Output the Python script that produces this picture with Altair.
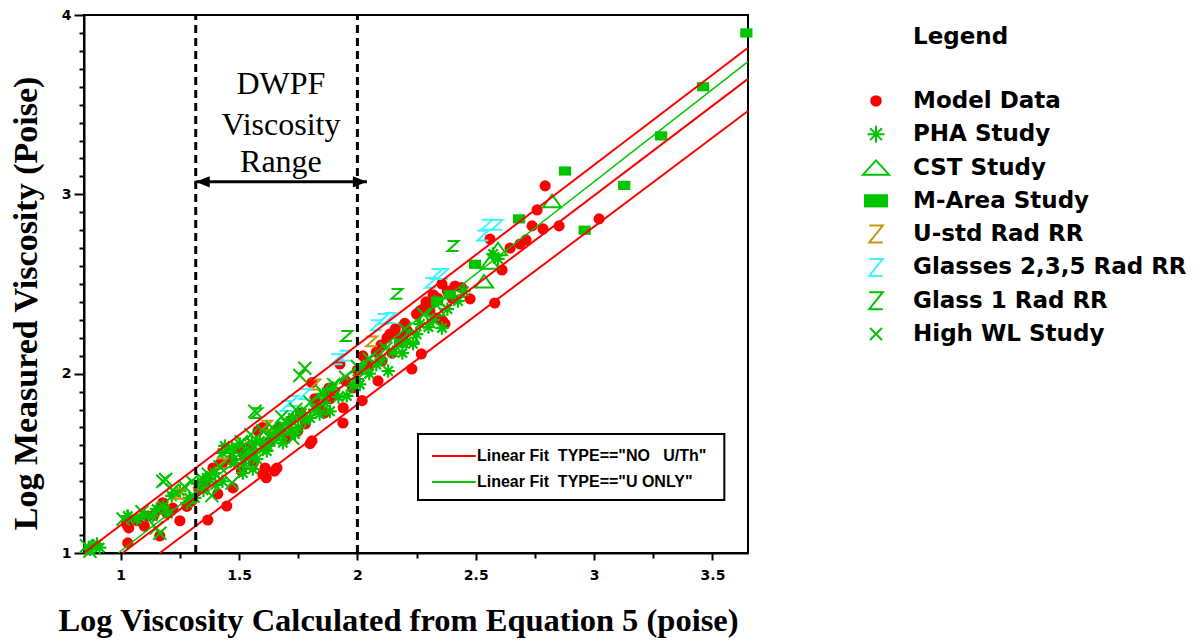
import altair as alt
import pandas as pd

# ---------------- data ----------------
model_x = [1.025, 1.03, 1.034, 1.07, 1.10, 1.114, 1.14, 1.165, 1.165, 1.178, 1.195, 1.22, 1.25, 1.28, 1.30,
           1.33, 1.36, 1.368, 1.39, 1.41, 1.419, 1.43, 1.448, 1.474, 1.47, 1.503, 1.51, 1.52, 1.55, 1.56,
           1.58, 1.60, 1.60, 1.61, 1.615, 1.63, 1.65, 1.66, 1.67, 1.70, 1.72, 1.748, 1.76, 1.78, 1.80,
           1.808, 1.808, 1.82, 1.84, 1.86, 1.884, 1.88, 1.90, 1.926, 1.939, 1.94, 1.95, 1.98, 2.00, 2.02,
           2.023, 2.05, 2.087, 2.08, 2.104, 2.10, 2.125, 2.137, 2.146, 2.16, 2.18, 2.20, 2.21, 2.23, 2.25,
           2.264, 2.27, 2.277, 2.29, 2.306, 2.306, 2.32, 2.336, 2.34, 2.357, 2.36, 2.37, 2.38, 2.40, 2.412,
           2.44, 2.476, 2.56, 2.58, 2.611, 2.645, 2.687, 2.712, 2.738, 2.759, 2.784, 2.793, 2.852, 3.021]
model_y = [1.16, 1.056, 1.14, 1.18, 1.15, 1.206, 1.21, 1.095, 1.245, 1.28, 1.223, 1.25, 1.18, 1.26, 1.29,
           1.36, 1.40, 1.184, 1.474, 1.33, 1.496, 1.50, 1.262, 1.363, 1.52, 1.585, 1.457, 1.55, 1.60, 1.50,
           1.68, 1.70, 1.44, 1.474, 1.42, 1.62, 1.457, 1.474, 1.70, 1.64, 1.74, 1.68, 1.78, 1.72, 1.61,
           1.625, 1.95, 1.86, 1.82, 1.78, 1.86, 1.92, 1.88, 2.054, 1.725, 1.81, 1.96, 1.92, 2.02, 1.85,
           2.099, 2.05, 1.96, 2.12, 2.07, 2.16, 2.20, 2.22, 2.115, 2.25, 2.20, 2.28, 2.24, 2.026, 2.333,
           2.35, 2.11, 2.36, 2.40, 2.35, 2.378, 2.44, 2.31, 2.42, 2.50, 2.294, 2.277, 2.46, 2.42, 2.489,
           2.48, 2.417, 2.75, 2.394, 2.578, 2.70, 2.723, 2.746, 2.824, 2.913, 2.807, 3.047, 2.824, 2.863]

pha_x = [0.87, 0.882, 0.90, 0.911, 1.03, 1.068, 1.10, 1.135, 1.152, 1.18, 1.20, 1.216, 1.25, 1.28, 1.29,
         1.313, 1.326, 1.35, 1.364, 1.397, 1.40, 1.43, 1.43, 1.44, 1.47, 1.47, 1.48, 1.503, 1.516, 1.52,
         1.533, 1.545, 1.554, 1.558, 1.56, 1.575, 1.588, 1.60, 1.617, 1.62, 1.638, 1.65, 1.672, 1.68, 1.685,
         1.70, 1.72, 1.727, 1.736, 1.75, 1.765, 1.78, 1.80, 1.82, 1.84, 1.854, 1.86, 1.884, 1.896, 1.92,
         1.955, 1.98, 2.00, 2.01, 2.02, 2.05, 2.08, 2.10, 2.13, 2.15, 2.19, 2.21, 2.235, 2.25, 2.264,
         2.30, 2.32, 2.357, 2.38, 2.425, 2.45, 2.573, 2.594]
pha_y = [1.02, 1.04, 1.05, 1.03, 1.206, 1.19, 1.21, 1.206, 1.245, 1.26, 1.22, 1.318, 1.346, 1.28, 1.307,
         1.307, 1.385, 1.35, 1.418, 1.446, 1.38, 1.40, 1.558, 1.597, 1.586, 1.558, 1.50, 1.608, 1.446, 1.50,
         1.552, 1.54, 1.614, 1.468, 1.56, 1.524, 1.625, 1.58, 1.569, 1.60, 1.664, 1.63, 1.697, 1.66, 1.614,
         1.725, 1.68, 1.753, 1.664, 1.70, 1.78, 1.74, 1.753, 1.80, 1.775, 1.887, 1.84, 1.79, 1.92, 1.87,
         1.876, 1.93, 1.97, 1.94, 2.03, 2.00, 2.05, 2.08, 2.015, 2.12, 2.115, 2.18, 2.166, 2.22, 2.277,
         2.26, 2.30, 2.255, 2.36, 2.405, 2.46, 2.667, 2.64]

cst_x = [2.822, 2.594, 2.56, 2.535, 2.33, 2.22]
cst_y = [2.963, 2.695, 2.62, 2.515, 2.36, 2.21]

marea_x = [3.643, 3.46, 3.283, 3.127, 2.96, 2.877, 2.683, 2.497, 2.39, 2.336, 2.18]
marea_y = [3.90, 3.60, 3.326, 3.05, 2.80, 3.13, 2.863, 2.61, 2.44, 2.405, 2.17]

ustd_x = [1.82, 1.617, 1.427, 2.06, 1.25]
ustd_y = [1.94, 1.71, 1.50, 2.18, 1.33]

g235_x = [2.547, 2.59, 2.53, 2.336, 2.31, 2.36, 2.108, 2.08, 2.137, 1.947, 1.913, 1.778, 1.727, 1.70]
g235_y = [2.83, 2.83, 2.77, 2.556, 2.506, 2.556, 2.305, 2.27, 2.31, 2.10, 2.08, 1.887, 1.848, 1.82]

g1_x = [2.404, 2.167, 1.955, 1.575]
g1_y = [2.712, 2.445, 2.21, 1.78]

hwl_x = [0.856, 0.87, 1.01, 1.05, 1.09, 1.15, 1.165, 1.178, 1.19, 1.22, 1.27, 1.30, 1.34, 1.37, 1.385,
         1.42, 1.45, 1.47, 1.50, 1.51, 1.55, 1.567, 1.60, 1.64, 1.68, 1.727, 1.74, 1.757, 1.778, 1.80,
         1.85, 1.90, 1.95, 2.00, 2.05, 2.12, 2.20, 2.28, 2.35]
hwl_y = [1.04, 1.01, 1.19, 1.20, 1.23, 1.14, 1.11, 1.40, 1.41, 1.35, 1.37, 1.40, 1.42, 1.44, 1.32,
         1.48, 1.57, 1.39, 1.55, 1.62, 1.66, 1.79, 1.68, 1.70, 1.76, 1.64, 1.80, 1.99, 2.03, 1.84,
         1.90, 1.94, 1.98, 2.04, 2.08, 2.14, 2.25, 2.33, 2.40]

# fitted lines (end points)
fit_names = ["upper band", "NO U/Th fit", "lower band", "U ONLY fit"]
fit_x0 = [0.845, 1.008, 1.165, 0.99]
fit_y0 = [1.0, 1.0, 1.0, 1.0]
fit_x1 = [3.65, 3.65, 3.65, 3.65]
fit_y1 = [3.817, 3.644, 3.465, 3.74]
fit_colors = ["#ff0000", "#ff0000", "#ff0000", "#00c800"]

series_names = ["Model Data", "PHA Study", "CST Study", "M-Area Study", "U-std Rad RR",
                "Glasses 2,3,5 Rad RR", "Glass 1 Rad RR", "High WL Study"]
series_x = [model_x, pha_x, cst_x, marea_x, ustd_x, g235_x, g1_x, hwl_x]
series_y = [model_y, pha_y, cst_y, marea_y, ustd_y, g235_y, g1_y, hwl_y]

# annotations
dwpf_lines = ["DWPF", "Viscosity", "Range"]
dwpf_x = 1.677
dwpf_y = [3.616, 3.387, 3.18]
range_lo, range_hi, arrow_y, arrow_hi = 1.317, 2.0, 3.07, 2.04
box_x0, box_x1, box_y0, box_y1 = 2.256, 3.55, 1.296, 1.664
key_x0, key_x1, key_text_x = 2.315, 2.50, 2.505
key_y = [1.541, 1.396]
key_labels = ["Linear Fit\u00a0\u00a0TYPE==\"NO\u00a0\u00a0\u00a0U/Th\"", "Linear Fit\u00a0\u00a0TYPE==\"U ONLY\""]
key_colors = ["#ff0000", "#00c800"]

x_ticks = [1.0, 1.25, 1.5, 1.75, 2.0, 2.25, 2.5, 2.75, 3.0, 3.25, 3.5]
y_ticks = [round(1 + 0.1 * i, 1) for i in range(31)]

# ---------------- styles ----------------
RED, GREEN, CYAN, GOLD = "#ff0000", "#00c400", "#3ff3ff", "#c8960c"
ASTER = "M0,-1L0,1M-1,0L1,0M-0.7,-0.7L0.7,0.7M-0.7,0.7L0.7,-0.7"
CROSS = "M-1,-1L1,1M-1,1L1,-1"
TRI = "M0,-0.7L1,0.7L-1,0.7Z"
TRI_LEG = "M0,-0.55L1,0.55L-1,0.55Z"
RECT = "M-1,-0.75L1,-0.75L1,0.75L-1,0.75Z"
RECT_LEG = "M-1,-0.55L1,-0.55L1,0.55L-1,0.55Z"
ZED = "M-1,-0.9L1,-0.9L-1,0.9L1,0.9"
ZED_LEG = "M-0.8,-1L0.8,-1L-0.8,1L0.8,1"

plot_style = [
    dict(shape="circle", filled=True, color=RED, size=125),
    dict(shape=ASTER, filled=False, color=GREEN, size=180, strokeWidth=2.2),
    dict(shape=TRI, filled=False, color=GREEN, size=324, strokeWidth=2),
    dict(shape=RECT, filled=True, color=GREEN, size=150),
    dict(shape=ZED, filled=False, color=GOLD, size=121, strokeWidth=2),
    dict(shape=ZED, filled=False, color=CYAN, size=121, strokeWidth=2),
    dict(shape=ZED, filled=False, color=GREEN, size=121, strokeWidth=2),
    dict(shape=CROSS, filled=False, color=GREEN, size=169, strokeWidth=2),
]
legend_style = [
    dict(shape="circle", filled=True, color=RED, size=133),
    dict(shape=ASTER, filled=False, color=GREEN, size=289, strokeWidth=2),
    dict(shape=TRI_LEG, filled=False, color=GREEN, size=676, strokeWidth=2),
    dict(shape=RECT_LEG, filled=True, color=GREEN, size=576),
    dict(shape=ZED_LEG, filled=False, color=GOLD, size=289, strokeWidth=2),
    dict(shape=ZED_LEG, filled=False, color=CYAN, size=289, strokeWidth=2),
    dict(shape=ZED_LEG, filled=False, color=GREEN, size=289, strokeWidth=2),
    dict(shape=CROSS, filled=False, color=GREEN, size=144, strokeWidth=2),
]

W, H = 664, 538
xscale = alt.Scale(domain=[0.845, 3.65], nice=False, zero=False)
yscale = alt.Scale(domain=[1.0, 4.0], nice=False, zero=False)

xaxis = alt.Axis(
    values=x_ticks, grid=False, format="~g",
    labelExpr="datum.value % 0.5 === 0 ? datum.label : ''",
    tickSize={"condition": {"test": "datum.value % 0.5 === 0", "value": 7}, "value": 5},
    tickWidth=2, tickColor="black", domainColor="black", domainWidth=2,
    labelFont="DejaVu Sans", labelFontWeight="bold", labelFontSize=14, labelColor="black",
    labelPadding=8, labelFlush=False, labelOverlap=False,
    titleFont="Liberation Serif", titleFontWeight="bold", titleFontSize=32.5, titleColor="black",
    titlePadding=22, titleX=314, titleAnchor="start", titleAlign="center",
)
yaxis = alt.Axis(
    values=y_ticks, grid=False,
    labelExpr="abs(datum.value - round(datum.value)) < 0.01 ? format(datum.value, 'd') : ''",
    tickSize={"condition": {"test": "abs(datum.value - round(datum.value)) < 0.01", "value": 10}, "value": 5},
    tickWidth=2, tickColor="black", domainColor="black", domainWidth=2,
    labelFont="DejaVu Sans", labelFontWeight="bold", labelFontSize=14, labelColor="black",
    labelPadding=3, labelFlush=False, labelOverlap=False,
    titleFont="Liberation Serif", titleFontWeight="bold", titleFontSize=34, titleColor="black",
    titlePadding=18, titleY=288, titleAnchor="start", titleAlign="center",
)

X = alt.X("x:Q", scale=xscale, axis=xaxis, title="Log Viscosity Calculated from Equation 5 (poise)")
Y = alt.Y("y:Q", scale=yscale, axis=yaxis, title="Log Measured Viscosity (Poise)")

layers = []
for name, xs, ys, st in zip(series_names, series_x, series_y, plot_style):
    df = pd.DataFrame({"x": xs, "y": ys, "series": name})
    layers.append(alt.Chart(df).mark_point(opacity=1, **st).encode(x=X, y=Y))

fit_df = pd.DataFrame({"x": fit_x0, "y": fit_y0, "x2": fit_x1, "y2": fit_y1,
                       "name": fit_names, "c": fit_colors})
fit_red = alt.Chart(fit_df[fit_df["c"] == "#ff0000"]).mark_rule(color=RED, strokeWidth=2).encode(
    x=X, y=Y, x2="x2:Q", y2="y2:Q")
fit_green = alt.Chart(fit_df[fit_df["c"] != "#ff0000"]).mark_rule(color=GREEN, strokeWidth=1.5).encode(
    x=X, y=Y, x2="x2:Q", y2="y2:Q")

dash_df = pd.DataFrame({"x": [range_lo, range_hi], "y": [1.0, 1.0], "y2": [4.0, 4.0]})
dashes = alt.Chart(dash_df).mark_rule(color="black", strokeWidth=3, strokeDash=[8, 5]).encode(
    x=X, y=Y, y2="y2:Q")

arrow_df = pd.DataFrame({"x": [range_lo], "x2": [arrow_hi], "y": [arrow_y]})
arrow = alt.Chart(arrow_df).mark_rule(color="black", strokeWidth=3).encode(x=X, x2="x2:Q", y=Y)
head_l = alt.Chart(pd.DataFrame({"x": [range_lo], "y": [arrow_y]})).mark_point(
    shape="M0,0L2,-0.8L2,0.8Z", filled=True, color="black", size=196, opacity=1).encode(x=X, y=Y)
head_r = alt.Chart(pd.DataFrame({"x": [arrow_hi], "y": [arrow_y]})).mark_point(
    shape="M0,0L-2,-0.8L-2,0.8Z", filled=True, color="black", size=196, opacity=1).encode(x=X, y=Y)

dwpf = alt.Chart(pd.DataFrame({"x": [dwpf_x] * 3, "y": dwpf_y, "t": dwpf_lines})).mark_text(
    font="Liberation Serif", fontSize=32, color="black", align="center", baseline="middle").encode(
    x=X, y=Y, text="t:N")

box = alt.Chart(pd.DataFrame({"x": [box_x0], "x2": [box_x1], "y": [box_y0], "y2": [box_y1]})).mark_rect(
    fill="white", stroke="black", strokeWidth=2).encode(x=X, x2="x2:Q", y=Y, y2="y2:Q")
key_df = pd.DataFrame({"x": [key_x0] * 2, "x2": [key_x1] * 2, "y": key_y, "c": key_colors,
                       "t": key_labels, "tx": [key_text_x] * 2})
key_lines = alt.Chart(key_df).mark_rule(strokeWidth=2).encode(
    x=X, x2="x2:Q", y=Y, color=alt.Color("c:N", scale=None))
key_text = alt.Chart(key_df).mark_text(
    font="Liberation Sans", fontWeight="bold", fontSize=16, color="black", align="left",
    baseline="middle").encode(x=alt.X("tx:Q", scale=xscale, axis=xaxis,
                                      title="Log Viscosity Calculated from Equation 5 (poise)"),
                              y=Y, text="t:N")

main = alt.layer(*layers, fit_red, fit_green, dashes, arrow, head_l, head_r, dwpf, box, key_lines,
                 key_text).properties(width=W, height=H,
                                      view=alt.ViewBackground(stroke="black", strokeWidth=2))

# ---------------- legend panel ----------------
legy = alt.Scale(domain=[-2.58, 7.63], reverse=True, nice=False, zero=False)
LY = alt.Y("row:Q", scale=legy, axis=None)
leg_layers = []
for i, st in enumerate(legend_style):
    leg_layers.append(alt.Chart(pd.DataFrame({"row": [i]})).mark_point(opacity=1, **st).encode(
        x=alt.value(28), y=LY))
leg_text = alt.Chart(pd.DataFrame({"row": list(range(8)), "label": series_names})).mark_text(
    font="DejaVu Sans", fontWeight="bold", fontSize=23, color="black", align="left",
    baseline="middle").encode(x=alt.value(65), y=LY, text="label:N")
leg_title = alt.Chart(pd.DataFrame({"row": [-1.92], "t": ["Legend"]})).mark_text(
    font="DejaVu Sans", fontWeight="bold", fontSize=23, color="black", align="left",
    baseline="middle").encode(x=alt.value(65), y=LY, text="t:N")
legend = alt.layer(*leg_layers, leg_text, leg_title).properties(
    width=340, height=340, view=alt.ViewBackground(stroke="transparent"))

chart = alt.hconcat(main, legend, spacing=100, bounds="flush").properties(
    padding={"left": 8, "top": 7, "right": 0, "bottom": 0},
    background="white",
).configure_view(strokeWidth=2)

chart.save("out.html", embed_options={"renderer": "svg", "actions": False})
